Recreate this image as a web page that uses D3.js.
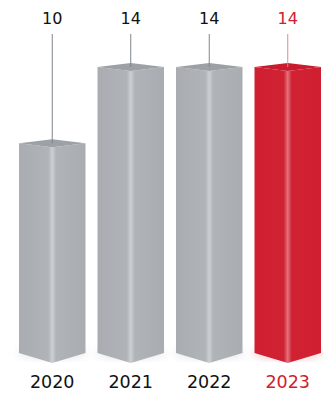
<!DOCTYPE html>
<html>
<head>
<meta charset="utf-8">
<script src="https://cdn.jsdelivr.net/npm/d3@7"></script>
<style>
  html, body { margin: 0; padding: 0; background: #fff; }
  svg { display: block; }
</style>
</head>
<body>
<svg id="svg" width="323" height="394"></svg>
<script>
var years = ["2020", "2021", "2022", "2023"];
var values = [10, 14, 14, 14];
var highlight = "2023";

var svg = d3.select("svg"),
    width = 323,
    height = 394;

var x = d3.scaleBand()
    .domain(years)
    .range([19, 321])
    .paddingInner(0.153)
    .paddingOuter(0);

var y = d3.scaleLinear()
    .domain([0, 14])
    .range([330, 63]);

var bottom = 353;

var defs = svg.append("defs");

function grad(id, edge, mid, shine) {
    var g = defs.append("linearGradient").attr("id", id)
        .attr("x1", 0).attr("x2", 1).attr("y1", 0).attr("y2", 0);
    g.append("stop").attr("offset", "0%").attr("stop-color", edge);
    g.append("stop").attr("offset", "44%").attr("stop-color", mid);
    g.append("stop").attr("offset", "50%").attr("stop-color", shine);
    g.append("stop").attr("offset", "56%").attr("stop-color", mid);
    g.append("stop").attr("offset", "100%").attr("stop-color", edge);
}
grad("gGray", "#a9adb1", "#b0b4b8", "#ccd0d4");
grad("gRed", "#cf1f30", "#d12233", "#e2737d");

defs.append("filter").attr("id", "blur")
    .attr("x", "-20%").attr("y", "-20%").attr("width", "140%").attr("height", "140%")
    .append("feGaussianBlur").attr("stdDeviation", 4);

var bar = svg.selectAll(".bar")
    .data(years)
    .enter().append("g")
    .attr("class", "bar");

// soft shadow at the foot
bar.append("ellipse")
    .attr("cx", function (d) { return x(d) + x.bandwidth() / 2; })
    .attr("cy", bottom)
    .attr("rx", x.bandwidth() / 2 + 2)
    .attr("ry", 6)
    .attr("fill", function (d) { return d === highlight ? "#f3c9cd" : "#e6e8ea"; })
    .attr("filter", "url(#blur)");

// front faces
bar.append("path")
    .attr("d", function (d, i) {
        var x0 = x(d), x1 = x0 + x.bandwidth(), xc = (x0 + x1) / 2, yt = y(values[i]);
        return "M" + x0 + "," + (yt + 4) + "L" + xc + "," + (yt + 8) + "L" + x1 + "," + (yt + 4) +
            "L" + x1 + "," + bottom + "L" + xc + "," + (bottom + 10) + "L" + x0 + "," + bottom + "Z";
    })
    .attr("fill", function (d) { return d === highlight ? "url(#gRed)" : "url(#gGray)"; });

// top face
bar.append("path")
    .attr("d", function (d, i) {
        var x0 = x(d), x1 = x0 + x.bandwidth(), xc = (x0 + x1) / 2, yt = y(values[i]);
        return "M" + x0 + "," + (yt + 4) + "L" + xc + "," + yt + "L" + x1 + "," + (yt + 4) +
            "L" + xc + "," + (yt + 8) + "Z";
    })
    .attr("fill", function (d) { return d === highlight ? "#c81c2d" : "#9ca1a6"; });

// leader lines
bar.append("line")
    .attr("x1", function (d) { return x(d) + x.bandwidth() / 2; })
    .attr("x2", function (d) { return x(d) + x.bandwidth() / 2; })
    .attr("y1", 34)
    .attr("y2", function (d, i) { return y(values[i]) + 4; })
    .attr("stroke", function (d) { return d === highlight ? "#e48891" : "#7f868d"; })
    .attr("stroke-width", 1);

// value labels
bar.append("text")
    .attr("x", function (d) { return x(d) + x.bandwidth() / 2; })
    .attr("y", 24)
    .attr("text-anchor", "middle")
    .style("font-family", "'DejaVu Sans', sans-serif")
    .style("font-size", "16px")
    .attr("fill", function (d) { return d === highlight ? "#d0202f" : "#111"; })
    .text(function (d, i) { return values[i]; });

// year labels
bar.append("text")
    .attr("x", function (d) { return x(d) + x.bandwidth() / 2; })
    .attr("y", 388)
    .attr("text-anchor", "middle")
    .style("font-family", "'DejaVu Sans', sans-serif")
    .style("font-size", "17.5px")
    .attr("fill", function (d) { return d === highlight ? "#d0202f" : "#111"; })
    .text(function (d) { return d; });
</script>
</body>
</html>
